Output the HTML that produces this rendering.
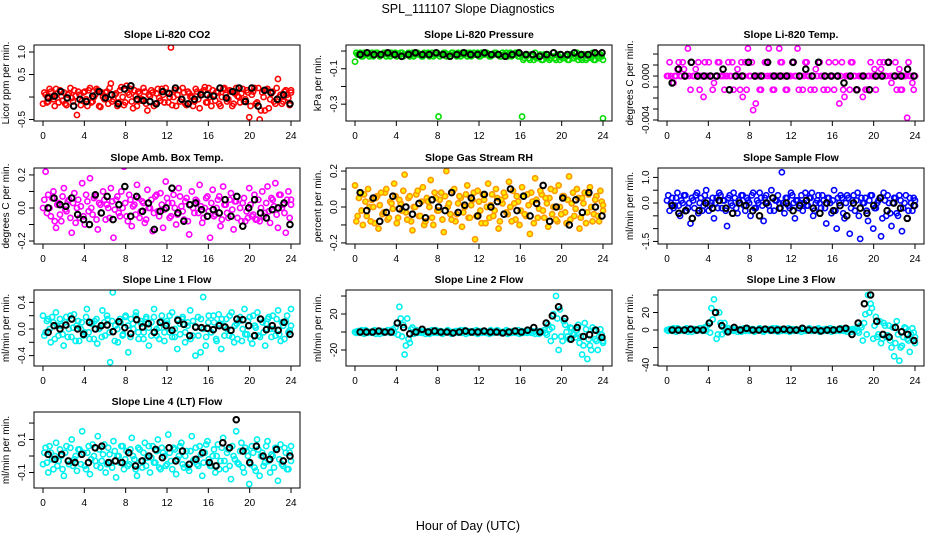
<!DOCTYPE html>
<html><head><meta charset="utf-8"><style>
html,body{margin:0;padding:0;background:#fff;}
svg text{font-family:"Liberation Sans",Arial,sans-serif;}
</style></head><body>
<svg id="chart" width="936" height="540" viewBox="0 0 936 540" xmlns="http://www.w3.org/2000/svg">
<rect x="0" y="0" width="936" height="540" fill="#fff"/>
<text x="468" y="13" font-size="12.5" text-anchor="middle">SPL_111107  Slope Diagnostics</text>
<text x="468" y="530" font-size="12.5" text-anchor="middle">Hour of Day (UTC)</text>
</svg>
<script>
// ---- data ----
const xTicks = [0,4,8,12,16,20,24];
const titles = ["Slope Li-820 CO2","Slope Li-820 Pressure","Slope Li-820 Temp.","Slope Amb. Box Temp.","Slope Gas Stream RH","Slope Sample Flow","Slope Line 1 Flow","Slope Line 2 Flow","Slope Line 3 Flow","Slope Line 4 (LT) Flow"];
const yTitles = ["Licor ppm per min.","kPa per min.","degrees C per min.","degrees C per min.","percent per min.","ml/min per min.","ml/min per min.","ml/min per min.","ml/min per min.","ml/min per min."];
const yTickVals = [[1,0.5,0,-0.5],[0,-0.1,-0.2,-0.3],[2,1,0,-1,-2,-3,-4],[0.2,0.1,0,-0.1,-0.2],[0.2,0.1,0,-0.1,-0.2],[1,0.5,0,-0.5,-1,-1.5],[0.4,0.2,0,-0.2,-0.4],[40,20,0,-20],[40,20,0,-20,-40],[0.2,0.1,0,-0.1]];
const yTickLabels = [["1.0","0.5","","-0.5"],["","-0.1","","-0.3"],["","","0.000","","","","-0.004"],["0.2","","0.0","","-0.2"],["0.2","","0.0","","-0.2"],["1.0","","0.0","","","-1.5"],["0.4","","0.0","","-0.4"],["","20","","-20"],["","20","0","","-40"],["","0.1","","-0.1"]];

const co2 = [-0.15,0.05,-0.1,0.12,-0.05,0.18,-0.12,0.02,0.1,-0.18,0.08,-0.02,0.15,-0.4,0.05,-0.08,0.12,-0.2,0.2,-0.1,0.05,0.15,-0.22,0.0,0.1,-0.15,0.3,-0.05,0.08,-0.12,0.22,-0.18,0.25,0.05,-0.1,0.15,-0.2,0.08,-0.05,0.12,-0.3,0.02,0.1,-0.15,0.18,-0.08,0.05,0.2,-0.12,1.1,0.0,-0.2,0.15,-0.05,0.1,-0.18,0.08,0.02,-0.1,0.12,-0.25,0.05,0.22,-0.12,0.0,0.15,-0.08,0.1,-0.2,0.18,0.05,-0.05,0.12,-0.15,0.2,0.0,0.08,-0.1,0.15,-0.45,0.05,0.2,-0.12,-0.5,0.1,-0.3,0.18,-0.05,0.12,-0.15,0.4,0.05,-0.1,0.15,-0.02,0.1];
const co2b = [0.1,-0.12,0.18,0.0,-0.2,0.08,0.15,-0.08,-0.15,0.05,0.2,-0.1,0.02,0.12,-0.18,0.1,-0.05,0.15,-0.12,0.0,0.18,-0.2,0.1,-0.05,0.12,0.2,-0.1,0.05,-0.2,0.15,0.0,-0.12,0.1,0.18,-0.25,0.02,0.12,-0.08,0.2,-0.15,0.05,0.15,-0.2,0.08,-0.02,0.18,-0.12,0.1,0.0,-0.18,0.15,0.05,-0.1,0.2,-0.15,0.12,0.0,-0.2,0.18,-0.05,0.1,0.15,-0.12,0.2,-0.2,0.05,0.12,-0.15,0.0,0.2,-0.1,0.15,-0.2,0.08,0.02,-0.12,0.18,-0.05,0.1,-0.2,0.12,-0.15,0.2,-0.3,0.0,0.15,-0.25,0.08,-0.1,0.2,0.0,-0.15,0.12,0.05,-0.18,0.15];
const co2Black = [-0.02,0.02,0.12,-0.02,-0.2,-0.05,-0.1,0.02,0.12,-0.02,0.05,-0.15,0.18,0.25,-0.05,-0.08,-0.1,-0.15,0.12,0.08,0.2,-0.05,-0.15,-0.05,0.05,0.05,0.02,0.2,-0.02,0.12,0.2,-0.1,0.2,-0.2,0.15,0.1,-0.05,0.05,-0.15];
const pres = [-0.06,-0.02,-0.01,-0.03,-0.02,-0.01,-0.02,-0.03,-0.01,-0.02,-0.02,-0.01,-0.03,-0.02,-0.01,-0.02,-0.03,-0.02,-0.01,-0.02,-0.02,-0.03,-0.01,-0.02,-0.01,-0.02,-0.03,-0.02,-0.01,-0.02,-0.03,-0.02,-0.37,-0.02,-0.01,-0.03,-0.02,-0.01,-0.02,-0.03,-0.02,-0.01,-0.02,-0.03,-0.01,-0.02,-0.02,-0.01,-0.03,-0.02,-0.01,-0.02,-0.03,-0.02,-0.01,-0.02,-0.03,-0.02,-0.01,-0.02,-0.03,-0.02,-0.01,-0.03,-0.37,-0.04,-0.02,-0.05,-0.03,-0.01,-0.04,-0.02,-0.05,-0.03,-0.02,-0.04,-0.01,-0.05,-0.03,-0.02,-0.04,-0.03,-0.05,-0.02,-0.04,-0.01,-0.03,-0.05,-0.02,-0.04,-0.03,-0.01,-0.05,-0.03,-0.02,-0.38];
const presb = [-0.01,-0.02,-0.03,-0.01,-0.02,-0.03,-0.01,-0.02,-0.01,-0.03,-0.02,-0.01,-0.02,-0.03,-0.02,-0.01,-0.02,-0.01,-0.03,-0.02,-0.01,-0.02,-0.03,-0.01,-0.02,-0.03,-0.01,-0.02,-0.03,-0.01,-0.02,-0.01,-0.03,-0.02,-0.01,-0.02,-0.03,-0.01,-0.02,-0.01,-0.03,-0.02,-0.01,-0.02,-0.03,-0.01,-0.02,-0.03,-0.01,-0.02,-0.01,-0.03,-0.02,-0.01,-0.02,-0.03,-0.01,-0.02,-0.03,-0.01,-0.02,-0.01,-0.03,-0.02,-0.05,-0.03,-0.04,-0.02,-0.05,-0.04,-0.03,-0.05,-0.02,-0.04,-0.05,-0.03,-0.04,-0.02,-0.05,-0.04,-0.03,-0.05,-0.02,-0.04,-0.03,-0.05,-0.04,-0.02,-0.05,-0.03,-0.04,-0.05,-0.02,-0.04,-0.03,-0.05];
const presBlack = [-0.02,-0.01,-0.02,-0.02,-0.01,-0.02,-0.03,-0.02,-0.01,-0.02,-0.02,-0.01,-0.02,-0.03,-0.02,-0.01,-0.02,-0.02,-0.01,-0.02,-0.02,-0.03,-0.02,-0.01,-0.02,-0.02,-0.03,-0.02,-0.01,-0.02,-0.02,-0.01,-0.02,-0.02,-0.01,-0.01];
const temp = [0,1.25,-0.625,0,0.625,0,1.25,0,2.5,-1.25,0,0.625,1.25,0,-1.9,0,1.25,0,-0.625,0,1.25,0,-1.25,0,0,1.25,0,0.625,-1.25,-1.9,1.25,2.5,0,-3.1,-2.5,0,-1.25,0,1.25,2.5,0,-1.25,0,2.5,1.25,0,-1.25,0,1.25,0,2.5,0,-1.25,1.25,0,-1.25,0,0.625,1.25,0,-1.25,0,1.25,0,-1.25,0,-2.5,1.25,-1.9,0,-1.25,1.25,0,-1.25,0,-1.9,-1.25,0,1.25,0,-1.25,0,0.625,1.25,0,1.25,-0.625,0,-1.25,0.625,-1.25,0,-3.8,0,-0.625,0];
const tempb = [0,0,-0.625,0,1.25,0,0.625,0,0,1.25,0,0,-1.25,0,1.25,0,0,-1.25,0,1.25,0,0,0,1.25,0,-1.25,0,0,1.25,0,-1.25,0,1.25,0,0,-1.25,0,1.25,0,0,-1.25,0,0,1.25,0,-1.25,0,0,1.25,0,-1.25,0,0,1.25,0,0,-1.25,0,1.25,0,0,-1.25,0,0,1.25,0,0,-1.25,0,0,1.25,0,-1.25,0,0,0,-1.25,0,0,0.625,0,1.25,0,0,1.25,0,0,1.25,0,-1.25,0,0,1.25,0,-1.25,0];
const tempBlack = [-0.625,0.625,0,1.25,0,0,0,0,0.625,-1.25,0,0,1.25,0,0,1.25,0,0,0,1.25,0,0.625,0,1.25,0,0,0,-0.625,0,-1.25,0,-1.25,0,0,1.25,0,0,0.625,0];
const amb = [0.0,0.22,0.08,-0.05,0.1,-0.12,0.03,-0.08,0.12,-0.02,0.05,-0.15,0.09,0.0,-0.06,0.15,-0.1,0.04,0.18,-0.04,0.07,-0.13,0.02,0.1,-0.07,0.0,0.12,-0.18,0.05,-0.03,0.1,0.25,-0.05,0.08,-0.11,0.02,0.14,-0.06,0.04,-0.09,0.11,0.0,-0.14,0.07,-0.02,0.09,-0.12,0.16,0.03,-0.05,0.08,-0.1,0.12,0.01,-0.07,0.06,-0.16,0.1,-0.03,0.04,0.14,-0.09,0.0,0.07,-0.18,0.11,-0.04,0.05,-0.11,0.13,0.02,-0.06,0.09,-0.13,0.04,0.26,-0.08,0.06,-0.02,0.12,-0.05,0.08,-0.07,-0.08,0.1,-0.03,0.13,-0.09,0.05,0.15,-0.12,0.08,0.02,-0.15,0.1,0.05];
const ambb = [0.05,-0.03,0.0,0.06,-0.08,0.02,-0.04,0.07,-0.01,0.04,-0.06,0.03,-0.09,0.05,0.01,-0.05,0.08,-0.02,0.0,0.06,-0.07,0.03,-0.03,0.05,0.02,-0.06,0.04,-0.01,0.07,-0.05,0.0,0.03,-0.08,0.05,0.01,-0.04,0.06,-0.02,0.03,-0.07,0.0,0.05,-0.03,0.08,-0.05,0.02,-0.01,0.06,-0.06,0.03,0.0,-0.04,0.07,-0.02,0.04,-0.08,0.02,0.0,0.05,-0.03,0.01,-0.06,0.06,-0.02,0.03,-0.05,0.0,0.07,-0.07,0.02,-0.03,0.05,-0.01,0.04,-0.06,0.0,0.03,-0.08,-0.06,0.02,-0.04,-0.07,0.05,0.0,-0.05,0.03,-0.02,0.06,0.01,-0.04,0.08,0.0,-0.03,0.05,-0.06,0.02];
const ambBlack = [0.0,0.06,0.02,0.01,0.06,-0.04,-0.07,-0.1,0.08,-0.03,0.07,-0.07,0.02,0.13,-0.05,0.07,-0.02,0.03,-0.13,-0.02,0.0,0.12,-0.03,-0.08,0.02,0.03,-0.01,-0.05,-0.01,-0.03,0.05,-0.05,0.07,-0.11,0.0,0.05,-0.03,-0.06,-0.01,0.0,0.03,-0.1];
const rh = [0.12,-0.05,0.08,-0.1,0.03,0.1,-0.08,0.0,0.05,-0.12,0.08,-0.03,0.1,-0.06,0.02,0.13,-0.09,0.04,-0.02,0.18,-0.07,0.06,-0.13,0.0,0.09,-0.05,0.11,-0.08,0.03,0.15,-0.1,0.05,-0.02,0.08,-0.14,0.2,0.02,-0.07,0.1,-0.04,0.06,-0.11,0.0,0.12,-0.06,0.04,-0.18,0.09,-0.02,0.07,-0.09,0.13,0.01,-0.05,0.1,-0.12,0.04,0.08,-0.03,0.14,-0.08,0.02,0.06,-0.1,0.11,-0.04,0.07,-0.15,0.03,0.16,-0.06,0.09,-0.02,0.05,-0.11,0.1,0.0,-0.07,0.12,-0.04,0.06,-0.09,0.17,0.02,-0.05,0.1,-0.12,0.05,0.08,-0.03,0.11,-0.08,0.04,-0.05,0.09,-0.02];
const rhb = [-0.08,0.05,-0.02,0.07,-0.05,0.0,0.04,-0.09,0.06,0.01,-0.04,0.08,-0.07,0.03,-0.01,0.06,-0.06,0.02,0.09,-0.03,0.05,-0.08,0.0,0.07,-0.05,0.03,-0.1,0.05,0.0,-0.06,0.08,-0.02,0.04,-0.07,0.06,0.0,-0.04,0.09,-0.08,0.02,0.05,-0.03,0.07,-0.06,0.01,0.08,-0.05,0.03,-0.09,0.04,0.0,-0.06,0.07,-0.02,0.05,-0.08,0.02,0.06,-0.04,0.0,0.09,-0.07,0.03,-0.02,0.06,-0.05,0.01,0.08,-0.09,0.04,-0.01,0.07,-0.06,0.02,0.05,-0.04,0.09,-0.08,0.0,0.06,-0.03,0.04,-0.07,0.08,-0.01,0.05,-0.06,0.02,-0.09,0.07,0.0,-0.04,0.06,-0.08,0.03,0.01];
const rhBlack = [0.08,-0.02,0.05,-0.08,-0.03,0.06,-0.01,0.0,-0.04,0.02,-0.06,0.04,0.0,-0.02,0.08,-0.03,0.01,0.05,-0.05,0.07,0.0,0.03,-0.04,0.1,-0.02,0.06,-0.05,0.02,0.12,-0.08,0.0,0.05,-0.1,0.04,-0.03,0.08,0.0,-0.05];
const sflow = [0.1,-0.3,0.2,-0.1,0.4,-0.5,0.0,0.3,-0.2,-0.8,0.1,0.3,-0.4,0.2,-0.1,0.5,-0.3,0.0,-0.6,0.2,0.4,-0.2,0.1,-0.9,0.3,-0.1,0.2,-0.4,0.0,0.3,-0.3,0.1,-0.5,0.4,-0.2,0.0,0.2,-0.7,0.3,-0.1,0.5,-0.3,0.1,0.0,1.2,-0.4,0.2,-0.2,0.3,-0.6,0.1,0.0,-0.3,0.4,-0.1,0.2,-0.5,0.0,0.3,-0.2,0.1,-0.8,0.2,-0.4,0.5,-1.0,0.0,0.2,-0.6,0.3,-1.2,0.1,-0.3,0.4,-1.4,0.0,0.2,-0.7,0.3,-1.0,-0.2,0.1,-1.3,0.4,-0.5,0.0,-0.9,0.2,-0.4,0.3,-1.1,0.0,-0.6,0.2,-0.3,0.1];
const sflowb = [0.3,0.0,-0.2,0.2,-0.1,0.1,0.3,-0.3,0.0,0.2,-0.2,0.4,0.0,-0.3,0.3,0.1,-0.1,0.2,0.0,-0.2,0.3,0.1,-0.3,0.2,0.0,0.4,-0.2,0.1,0.3,-0.1,0.2,0.0,0.3,-0.2,0.1,0.4,-0.1,0.2,0.0,-0.3,0.2,0.1,0.3,-0.2,0.0,0.2,-0.1,0.4,0.0,0.1,-0.2,0.3,0.0,-0.1,0.2,0.4,-0.3,0.1,0.0,0.3,-0.2,0.2,0.0,0.1,-0.3,0.2,0.3,-0.4,0.0,0.2,-0.2,0.3,0.1,-0.5,0.2,0.0,-0.3,0.1,0.3,-0.2,0.0,0.2,-0.6,0.1,0.3,-0.4,0.0,0.2,-0.5,0.1,-0.2,0.3,-0.3,0.0,0.2,-0.1];
const sflowBlack = [-0.1,-0.4,-0.3,-0.6,-0.3,0.0,-0.2,0.1,-0.2,-0.4,0.0,-0.1,-0.3,-0.5,0.0,0.2,-0.2,0.0,-0.3,-0.1,0.1,-0.2,-0.4,0.0,-0.3,-0.1,-0.5,0.0,-0.2,-0.4,-0.1,0.2,-0.3,0.0,-0.2,-0.6,-0.1];
const l1 = [0.2,-0.05,0.15,-0.2,0.1,0.25,-0.1,0.05,-0.25,0.18,0.0,-0.12,0.22,0.05,-0.18,0.1,-0.05,0.3,-0.15,0.08,0.12,-0.22,0.02,0.28,-0.1,0.15,-0.5,0.55,0.05,-0.2,0.1,-0.08,0.2,-0.35,0.15,0.0,0.25,-0.15,0.08,-0.05,0.18,-0.25,0.1,0.3,-0.1,0.02,0.2,-0.18,0.12,-0.05,0.25,-0.12,-0.3,0.08,0.15,-0.2,0.05,0.28,-0.1,-0.4,0.18,-0.35,0.48,-0.25,0.1,-0.05,0.2,-0.15,0.22,-0.3,0.05,0.15,-0.1,0.25,-0.2,0.08,0.12,-0.18,0.3,-0.08,0.18,-0.22,0.05,0.25,-0.12,0.1,-0.25,0.15,0.0,0.2,-0.1,0.28,-0.18,0.05,0.12,-0.05,0.3];
const l1b = [-0.1,0.12,0.0,0.18,-0.15,0.05,0.15,-0.08,0.1,-0.12,0.2,0.02,-0.18,0.12,0.0,-0.1,0.18,-0.05,0.08,-0.15,0.15,0.0,-0.12,0.1,0.2,-0.05,0.12,-0.18,0.0,0.15,-0.1,0.18,0.05,-0.12,0.08,0.2,-0.05,0.12,-0.15,0.15,0.02,-0.1,0.18,0.0,-0.15,0.12,-0.05,0.08,0.2,-0.12,0.0,0.15,-0.08,0.18,-0.05,0.1,-0.15,0.12,0.02,-0.1,0.15,0.0,-0.12,0.2,-0.05,0.1,-0.18,0.08,0.15,-0.1,0.0,0.2,-0.12,0.05,-0.15,0.18,0.0,-0.08,0.12,-0.15,0.2,0.02,-0.1,0.15,-0.05,0.08,0.18,-0.12,0.0,0.15,-0.08,0.1,-0.15,0.2,-0.02,0.05];
const l1Black = [-0.05,0.05,0.0,0.06,0.15,0.0,-0.08,0.1,0.0,0.05,0.06,-0.04,0.11,0.02,-0.07,0.14,0.03,0.08,-0.05,0.1,0.05,-0.02,0.13,0.07,-0.1,0.03,0.02,0.01,-0.01,0.05,0.03,-0.02,0.15,0.14,0.05,-0.1,0.15,-0.01,0.05,-0.02,0.1,-0.08];
const l2 = [0,1,-1,0,2,-1,0,1,-2,0,1,-1,0,2,0,-1,10,28,-5,-25,15,-12,5,0,-1,1,0,-2,1,0,-1,2,0,1,-1,0,1,-2,0,1,0,-1,2,0,-1,1,0,-2,1,0,-1,0,2,-1,0,1,-1,0,2,0,-1,1,0,-2,1,0,-1,0,1,-2,0,1,0,-1,8,-10,20,40,-20,-5,12,0,-8,4,-3,2,-12,-25,10,-30,-15,5,-8,-20,3,-10];
const l2b = [-1,0,2,-2,1,0,-1,2,0,-2,1,0,2,-1,3,5,-3,15,8,-15,-8,3,-2,2,0,-1,1,0,-2,2,0,-1,1,-2,0,2,-1,0,1,-1,2,0,-2,1,0,-1,2,0,-1,1,0,-2,1,0,2,-1,0,1,-2,0,1,-1,2,0,-1,0,2,-1,0,1,-2,0,2,-3,3,5,-5,15,25,-10,8,-5,5,-3,-6,8,-5,-15,3,-8,-20,2,-10,-5,-3,-12];
const l2Black = [0,0,0,1,0,0,10,5,-2,0,3,0,1,0,0,-1,0,1,0,0,1,0,0,-1,0,1,0,2,5,0,10,18,28,15,-8,5,-5,-3,2,-6];
const l3 = [0,1,-1,0,2,-1,0,1,-2,0,1,-1,0,2,0,-1,8,25,35,-10,20,-5,8,0,-1,1,0,-2,1,0,-1,2,0,1,-1,0,1,-2,0,1,0,-1,2,0,-1,1,0,-2,1,0,-1,0,2,-1,0,1,-1,0,2,0,-1,1,0,-2,1,0,-1,0,1,-2,0,1,0,-1,5,-12,18,40,30,-10,15,-5,-15,8,-8,5,-20,-30,10,-35,-18,3,-10,-25,2,-8];
const l3b = [-1,0,2,-2,1,0,-1,2,0,-2,1,0,2,-1,3,5,-3,12,20,-5,8,3,-2,2,0,-1,1,0,-2,2,0,-1,1,-2,0,2,-1,0,1,-1,2,0,-2,1,0,-1,2,0,-1,1,0,-2,1,0,2,-1,0,1,-2,0,1,-1,2,0,-1,0,2,-1,0,1,-2,0,2,-3,3,8,-5,20,25,5,-8,10,-10,5,-6,-12,3,-15,-5,-20,-8,2,-12,-5,-3,-15];
const l3Black = [0,0,0,1,0,0,8,20,5,-2,3,0,2,0,0,1,0,0,1,0,0,2,0,0,-1,0,0,1,2,-5,8,30,40,10,-5,-8,3,-2,-5,-12];
const l4 = [-0.05,0.05,-0.1,0.02,-0.08,0.08,-0.03,0.0,-0.12,0.06,-0.05,0.1,-0.02,-0.09,0.04,0.15,-0.06,0.02,-0.11,0.07,-0.03,0.12,-0.07,0.01,-0.1,0.05,-0.04,0.09,-0.13,0.0,0.06,-0.08,0.03,-0.05,0.11,-0.02,-0.12,0.04,-0.07,0.08,-0.01,-0.1,0.06,-0.04,0.1,-0.08,0.02,-0.06,0.13,-0.03,0.05,-0.11,0.0,0.08,-0.07,0.03,-0.09,0.12,-0.02,-0.05,0.06,-0.12,0.02,0.09,-0.06,0.0,-0.1,0.07,-0.03,0.11,-0.08,0.04,-0.14,0.0,0.15,-0.05,0.08,-0.1,0.03,-0.17,0.06,-0.07,0.1,-0.12,0.02,-0.04,0.09,-0.1,0.0,0.05,-0.15,0.07,-0.06,0.02,-0.08,0.06];
const l4b = [0.02,-0.04,0.06,-0.02,0.0,-0.06,0.04,-0.08,0.02,-0.03,0.05,-0.06,0.0,0.04,-0.05,0.02,-0.08,0.06,-0.02,0.0,-0.06,0.04,-0.03,0.07,-0.05,0.01,-0.07,0.03,0.0,-0.04,0.06,-0.02,-0.06,0.04,0.0,-0.08,0.05,-0.03,0.02,-0.06,0.06,-0.01,-0.04,0.03,-0.07,0.05,0.0,-0.05,0.02,-0.08,0.04,-0.02,0.06,-0.05,0.0,-0.07,0.03,-0.03,0.05,-0.06,0.01,-0.04,0.07,-0.02,-0.06,0.04,0.0,-0.08,0.05,-0.03,0.02,-0.06,0.06,-0.02,-0.04,0.03,-0.07,0.05,0.0,-0.05,0.02,-0.09,0.04,0.0,-0.06,0.06,-0.03,0.01,-0.07,0.04,-0.02,-0.05,0.05,-0.08,0.02,-0.03];
const l4Black = [0.01,-0.02,0.01,-0.03,-0.04,0.01,-0.04,0.05,0.06,-0.04,-0.03,-0.04,0.02,-0.06,-0.03,0.0,0.04,-0.01,0.05,-0.03,0.03,-0.05,-0.02,0.02,-0.04,-0.06,0.08,0.05,0.22,0.03,-0.04,0.06,0.0,-0.02,0.04,-0.03,0.0];

const seriesColor = [co2,pres,temp,amb,rh,sflow,l1,l2,l3,l4];
const seriesColor2 = [co2b,presb,tempb,ambb,rhb,sflowb,l1b,l2b,l3b,l4b];
const seriesBlack = [co2Black,presBlack,tempBlack,ambBlack,rhBlack,sflowBlack,l1Black,l2Black,l3Black,l4Black];
const colors = ["#ff0000","#00dd00","#ff00ff","#ff00ff","#ff9900","#0000ff","#00f0f0","#00f0f0","#00f0f0","#00f0f0"];
// y domain [top,bottom] of each plot box
const yDomains = [[1.156,-0.533],[0.034,-0.395],[2.82,-4.09],[0.242,-0.218],[0.217,-0.206],[1.367,-1.6],[0.586,-0.556],[46.7,-37.8],[45.7,-41.1],[0.267,-0.194]];

// ---- layout ----
const NS = "http://www.w3.org/2000/svg";
const svg = document.getElementById('chart');
const colX = [34,346,658], rowY = [45,168,290,412], BW = 266, BH = 76;
function mk(tag, attrs, parent){const e=document.createElementNS(NS,tag);for(const k in attrs)e.setAttribute(k,attrs[k]);(parent||svg).appendChild(e);return e;}

titles.forEach((t,p)=>{
  const c=p%3, r=Math.floor(p/3);
  const L=colX[c], T=rowY[r];
  const g=mk('g',{});
  
  
  const xs=h=>L+9+h*(248/24);
  const [d0,d1]=yDomains[p];
  const ys=v=>T+(d0-v)/(d0-d1)*BH;
  const tt=mk('text',{x:L+BW/2,y:T-7,'font-size':10.5,'font-weight':'bold','text-anchor':'middle'},g);
  tt.textContent=t;
  
  
  const yt=mk('text',{x:0,y:0,'font-size':10,'text-anchor':'middle',transform:`translate(${L-25},${T+BH/2}) rotate(-90)`},g);
  yt.textContent=yTitles[p];
  
  
  xTicks.forEach(v=>{
    const x=xs(v);
    mk('line',{x1:x,x2:x,y1:T+BH,y2:T+BH+5,stroke:'#000'},g);
    const lb=mk('text',{x:x,y:T+BH+18,'font-size':10,'text-anchor':'middle'},g);
    lb.textContent=String(v);
    
    
  });
  yTickVals[p].forEach((v,i)=>{
    const y=ys(v);
    mk('line',{x1:L-5,x2:L,y1:y,y2:y,stroke:'#000'},g);
    if(yTickLabels[p][i]){
      const lb=mk('text',{x:0,y:0,'font-size':10,'text-anchor':'middle',transform:`translate(${L-9},${y}) rotate(-90)`},g);
      lb.textContent=yTickLabels[p][i];
      
      
    }
  });
  const clipId='clip'+p;
  const cp=mk('clipPath',{id:clipId},g); mk('rect',{x:L,y:T,width:BW,height:BH},cp);
  const pg=mk('g',{'clip-path':`url(#${clipId})`},g);
  [seriesColor2[p],seriesColor[p]].forEach((cs,k)=>{
    cs.forEach((v,i)=>{
      const h=(i+(k===0?0.5:0))*24/(cs.length-1);
      const pt=mk('circle',{cx:xs(Math.min(h,24)),cy:ys(v),r:2.6,fill:p===4?'#ffee00':'none',stroke:colors[p],'stroke-width':1.6},pg);
      
      
    });
  });
  const bs=seriesBlack[p];
  bs.forEach((v,i)=>{
    const h=0.5+i*23.4/(bs.length-1);
    const pt=mk('circle',{cx:xs(h),cy:ys(v),r:2.8,fill:'none',stroke:'#000','stroke-width':2},pg);
    
    
  });
  const box=mk('rect',{x:L,y:T,width:BW,height:BH,fill:'none',stroke:'#000','stroke-width':1},g);
  
  
});
</script>
</body></html>
